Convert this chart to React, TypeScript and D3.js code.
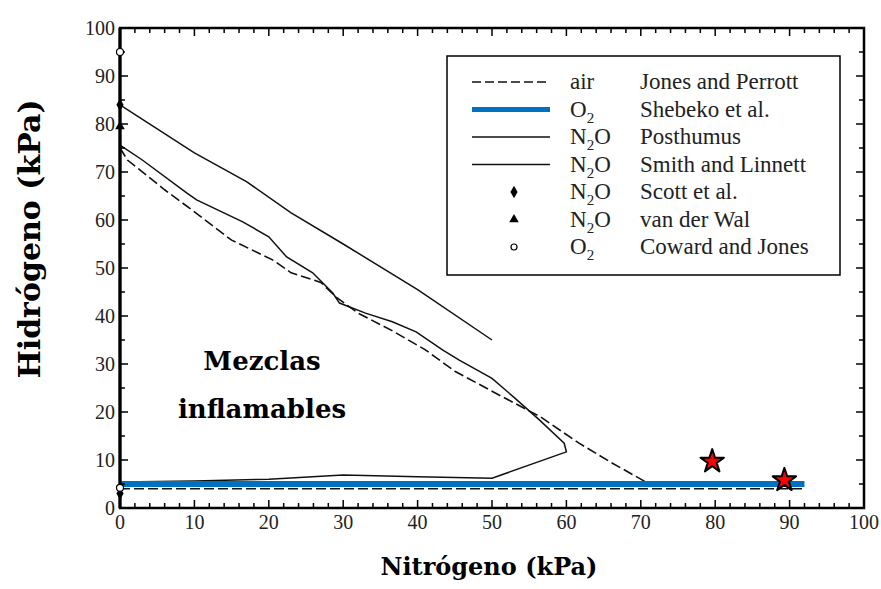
import React from "react";
import * as d3 from "d3";

// limits of flammability, H2 vs N2 (kPa)
const airRichN2 = [0, 1, 6, 10, 15, 20.5, 23, 27, 29, 32, 36.5, 41, 45, 51, 56.5, 61.7, 66, 70.7];
const airRichH2 = [75, 72.5, 66.3, 61.7, 55.8, 51.7, 49, 47, 44, 40.6, 37, 33, 28.5, 23.5, 19, 13.5, 9.5, 5.4];
const airLeanN2 = [0, 92];
const airLeanH2 = [4, 4];

const shebekoN2 = [0, 92];
const shebekoH2 = [5, 5];

const posthumusN2 = [0, 10, 17, 23, 30, 40, 50];
const posthumusH2 = [84, 74, 68, 61.5, 55, 45.5, 35];

const smithN2 = [0, 3, 9, 10.3, 16.5, 20, 22.4, 25.9, 28.6, 29.5, 33, 36.6, 39.8, 43.4, 45.6, 50, 53, 56.4, 59.7, 60, 50, 40, 30, 20, 10, 0];
const smithH2 = [75.6, 72.5, 65.6, 64.2, 59.6, 56.5, 52.3, 49, 44.8, 42.7, 40.6, 38.8, 36.7, 32.9, 30.8, 27, 23, 18.3, 13.5, 11.7, 6.2, 6.5, 6.9, 6, 5.6, 5.4];

const scottN2 = [0, 0];
const scottH2 = [84, 3];
const vanDerWalN2 = [0];
const vanDerWalH2 = [79.5];
const cowardN2 = [0, 0];
const cowardH2 = [95, 4.2];

const starN2 = [79.6, 89.3];
const starH2 = [9.7, 5.8];

const xTicks = [0, 10, 20, 30, 40, 50, 60, 70, 80, 90, 100];
const yTicks = [0, 10, 20, 30, 40, 50, 60, 70, 80, 90, 100];

const legendGas = ["air", "O2", "N2O", "N2O", "N2O", "N2O", "O2"];
const legendNames = [
  "Jones and Perrott",
  "Shebeko et al.",
  "Posthumus",
  "Smith and Linnett",
  "Scott et al.",
  "van der Wal",
  "Coward and Jones",
];

const x = d3.scaleLinear().domain([0, 100]).range([120, 864]);
const y = d3.scaleLinear().domain([0, 100]).range([508, 28]);

const zip = (a: number[], b: number[]) => a.map((v, i) => [v, b[i]] as [number, number]);
const line = d3
  .line<[number, number]>()
  .x((d) => x(d[0]))
  .y((d) => y(d[1]));

const BLUE = "#0070c0";
const serif = "'Liberation Serif', 'Times New Roman', serif";
const bold = "'DejaVu Serif', serif";

const diamond = d3.symbol(d3.symbolDiamond, 45)()!;
const triangle = d3.symbol(d3.symbolTriangle, 40)()!;
const star = d3.symbol(d3.symbolStar, 170)()!;

function Gas({ g }: { g: string }) {
  if (g === "air") return <tspan>air</tspan>;
  const m = g.match(/^([A-Z]+)(\d)(.*)$/)!;
  return (
    <>
      <tspan>{m[1]}</tspan>
      <tspan dy={6} fontSize={15}>
        {m[2]}
      </tspan>
      <tspan dy={-6}>{m[3]}</tspan>
    </>
  );
}

export default function App() {
  const minorX = d3.range(0, 101, 2);
  const minorY = d3.range(0, 101, 5);
  const [x0, x1] = x.range();
  const [y0, y1] = y.range();

  return (
    <svg width={881} height={589} style={{ position: "absolute", left: 0, top: 0, background: "#fff" }}>
      {/* data */}
      <path d={line(zip(airRichN2, airRichH2))!} fill="none" stroke="#111" strokeWidth={1.6} strokeDasharray="10,4" />
      <path d={line(zip(airLeanN2, airLeanH2))!} fill="none" stroke="#111" strokeWidth={1.6} strokeDasharray="10,4" />
      <path d={line(zip(posthumusN2, posthumusH2))!} fill="none" stroke="#111" strokeWidth={1.5} />
      <path d={line(zip(smithN2, smithH2))!} fill="none" stroke="#111" strokeWidth={1.5} />
      <path d={line(zip(shebekoN2, shebekoH2))!} fill="none" stroke={BLUE} strokeWidth={6} />

      {/* frame */}
      <rect x={x0} y={y1} width={x1 - x0} height={y0 - y1} fill="none" stroke="#000" strokeWidth={2.5} />
      <line x1={x0} x2={x0} y1={y1} y2={y0} stroke="#000" strokeWidth={3.2} />
      {minorX.map((v) => {
        const len = v % 10 === 0 ? 8 : 5;
        return (
          <g key={"xt" + v} stroke="#000" strokeWidth={1.5}>
            <line x1={x(v)} x2={x(v)} y1={y0} y2={y0 - len} />
            <line x1={x(v)} x2={x(v)} y1={y1} y2={y1 + len} />
          </g>
        );
      })}
      {minorY.map((v) => {
        const len = v % 10 === 0 ? 8 : 5;
        return (
          <g key={"yt" + v} stroke="#000" strokeWidth={1.5}>
            <line x1={x0} x2={x0 + len} y1={y(v)} y2={y(v)} />
            <line x1={x1} x2={x1 - len} y1={y(v)} y2={y(v)} />
          </g>
        );
      })}
      {xTicks.map((v) => (
        <text key={"xl" + v} x={x(v)} y={529} textAnchor="middle" fontFamily={serif} fontSize={20} fill="#222">
          {v}
        </text>
      ))}
      {yTicks.map((v) => (
        <text key={"yl" + v} x={115} y={y(v) + 7} textAnchor="end" fontFamily={serif} fontSize={20} fill="#222">
          {v}
        </text>
      ))}

      {/* point markers */}
      {zip(scottN2, scottH2).map((d, i) => (
        <path key={"sc" + i} d={diamond} transform={`translate(${x(d[0])},${y(d[1])})`} fill="#000" />
      ))}
      {zip(vanDerWalN2, vanDerWalH2).map((d, i) => (
        <path key={"vw" + i} d={triangle} transform={`translate(${x(d[0])},${y(d[1])})`} fill="#000" />
      ))}
      {zip(cowardN2, cowardH2).map((d, i) => (
        <circle key={"cj" + i} cx={x(d[0])} cy={y(d[1])} r={3.5} fill="#fff" stroke="#000" strokeWidth={1.2} />
      ))}
      {zip(starN2, starH2).map((d, i) => (
        <path
          key={"st" + i}
          d={star}
          transform={`translate(${x(d[0])},${y(d[1])})`}
          fill="#ff0000"
          stroke="#000"
          strokeWidth={2}
          strokeLinejoin="round"
        />
      ))}

      {/* legend */}
      <rect x={447} y={56} width={393} height={219} fill="#fff" stroke="#000" strokeWidth={1.5} />
      {legendNames.map((name, i) => {
        const cy = 82 + i * 27.5;
        let sample: React.ReactNode = null;
        if (i === 0)
          sample = <line x1={472} x2={550} y1={cy} y2={cy} stroke="#111" strokeWidth={1.6} strokeDasharray="9,4" />;
        else if (i === 1) sample = <line x1={472} x2={550} y1={cy} y2={cy} stroke={BLUE} strokeWidth={5} />;
        else if (i < 4) sample = <line x1={472} x2={550} y1={cy} y2={cy} stroke="#111" strokeWidth={1.4} />;
        else if (i === 4) sample = <path d={diamond} transform={`translate(514,${cy})`} fill="#000" />;
        else if (i === 5) sample = <path d={triangle} transform={`translate(514,${cy})`} fill="#000" />;
        else sample = <circle cx={514} cy={cy} r={3} fill="#fff" stroke="#000" strokeWidth={1.2} />;
        return (
          <g key={"lg" + i}>
            {sample}
            <text x={570} y={cy + 7} fontFamily={serif} fontSize={23} fill="#222">
              <Gas g={legendGas[i]} />
            </text>
            <text x={640} y={cy + 7} fontFamily={serif} fontSize={23} fill="#222">
              {name}
            </text>
          </g>
        );
      })}

      {/* annotations */}
      <text x={262} y={370} textAnchor="middle" fontFamily={bold} fontWeight="bold" fontSize={26}>
        Mezclas
      </text>
      <text x={262} y={418} textAnchor="middle" fontFamily={bold} fontWeight="bold" fontSize={26}>
        inflamables
      </text>

      {/* axis titles */}
      <text x={489} y={575} textAnchor="middle" fontFamily={bold} fontWeight="bold" fontSize={24}>
        Nitrógeno (kPa)
      </text>
      <text
        transform="translate(40,239) rotate(-90)"
        textAnchor="middle"
        fontFamily={bold}
        fontWeight="bold"
        fontSize={30}
      >
        Hidrógeno (kPa)
      </text>
    </svg>
  );
}
